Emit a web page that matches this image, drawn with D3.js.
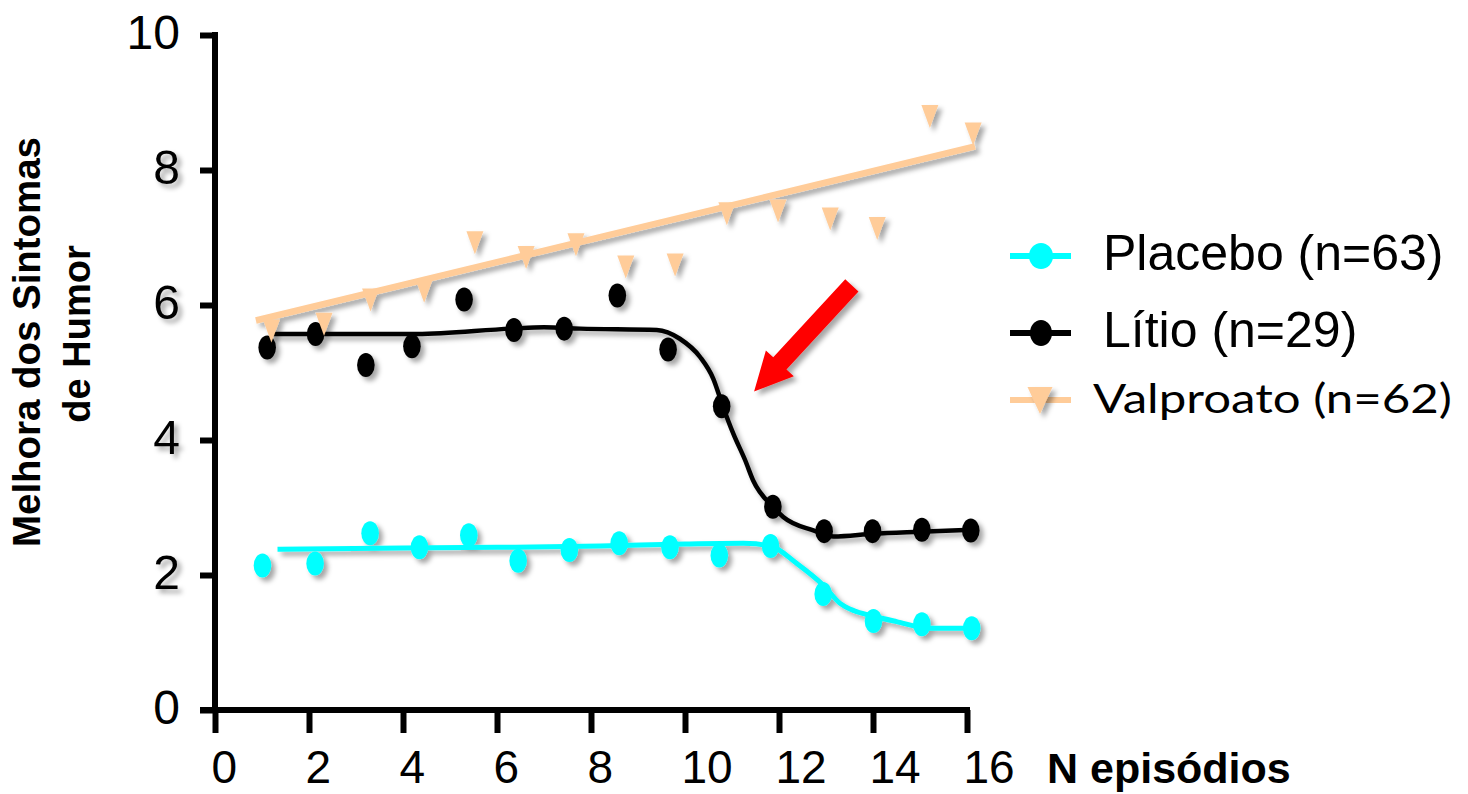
<!DOCTYPE html>
<html>
<head>
<meta charset="utf-8">
<script src="https://cdn.jsdelivr.net/npm/d3@7/dist/d3.min.js"></script>
<style>
  html, body { margin: 0; padding: 0; background: #fff; }
  svg { display: block; }
</style>
</head>
<body>
<svg id="chart" width="1468" height="794"></svg>
<script>
// ---------- data ----------
const xTicks = [0, 2, 4, 6, 8, 10, 12, 14, 16];
const yTicks = [0, 2, 4, 6, 8, 10];

const seriesNames = ["Placebo (n=63)", "Lítio (n=29)", "Valproato (n=62)"];

const placeboX = [1.01, 2.13, 3.30, 4.35, 5.40, 6.45, 7.54, 8.60, 9.68, 10.73, 11.82, 12.94, 14.01, 15.04, 16.10];
const placeboY = [2.14, 2.17, 2.62, 2.41, 2.59, 2.21, 2.37, 2.47, 2.41, 2.29, 2.43, 1.72, 1.32, 1.27, 1.21];

const litioX = [1.11, 2.14, 3.21, 4.19, 5.30, 6.36, 7.43, 8.56, 9.64, 10.78, 11.87, 12.96, 13.99, 15.04, 16.08];
const litioY = [5.37, 5.57, 5.11, 5.39, 6.08, 5.63, 5.65, 6.14, 5.34, 4.50, 3.01, 2.65, 2.65, 2.67, 2.66];

const valproX = [1.20, 2.32, 3.31, 4.45, 5.53, 6.62, 7.68, 8.74, 9.79, 10.89, 11.98, 13.09, 14.09, 15.21, 16.13];
const valproY = [5.67, 5.77, 6.13, 6.26, 6.98, 6.76, 6.95, 6.62, 6.65, 7.41, 7.45, 7.33, 7.19, 8.85, 8.59];

// fitted curves
const placeboFitX = [1.33, 4.0, 6.0, 8.2, 10.0, 11.24, 11.82, 12.38, 12.94, 13.30, 13.60, 13.95, 14.5, 15.2, 16.1];
const placeboFitY = [2.38, 2.40, 2.41, 2.43, 2.46, 2.47, 2.43, 2.17, 1.85, 1.58, 1.47, 1.40, 1.31, 1.21, 1.21];

const litioFitX = [1.17, 4.3, 6.3, 7.0, 7.77, 9.40, 9.89, 10.32, 10.6, 10.81, 11.03, 11.28, 11.45, 11.87, 12.09, 12.73, 13.16, 14.0, 15.0, 16.1];
const litioFitY = [5.57, 5.57, 5.65, 5.67, 5.65, 5.63, 5.50, 5.23, 4.91, 4.49, 4.09, 3.70, 3.40, 3.01, 2.86, 2.66, 2.57, 2.61, 2.64, 2.67];

const valproFitX = [0.87, 16.17];
const valproFitY = [5.77, 8.35];

// arrow annotation (data coords): tail -> tip
const arrowX = [13.55, 11.47];
const arrowY = [6.29, 4.72];

const colors = ["#00FFFF", "#000000", "#FFCC99"];

// ---------- scales ----------
const svg = d3.select("#chart");
const x = d3.scaleLinear().domain([0, 16]).range([215, 967]);
const y = d3.scaleLinear().domain([0, 10]).range([710, 35]);

// shadow filter
const defs = svg.append("defs");
const f = defs.append("filter").attr("id", "shadow")
  .attr("x", "-50%").attr("y", "-50%").attr("width", "200%").attr("height", "200%");
f.append("feDropShadow").attr("dx", 4).attr("dy", 4).attr("stdDeviation", 2.5)
  .attr("flood-color", "#000").attr("flood-opacity", 0.35);

// ---------- axes ----------
const xAxis = d3.axisBottom(x).tickValues(xTicks).tickSize(23).tickSizeOuter(0).tickPadding(17)
  .tickFormat(d3.format("d"));
const gx = svg.append("g").attr("transform", "translate(0,710)").call(xAxis);
gx.select(".domain").attr("stroke-width", 6).attr("d", `M${x(0) - 15},0H${x(16) + 3}`);
gx.selectAll(".tick line").attr("stroke-width", 6);
gx.selectAll(".tick text")
  .attr("text-anchor", "start").attr("x", -4)
  .attr("font-family", "Liberation Sans, Arial, sans-serif").attr("font-size", 46).attr("fill", "#000");

const yAxis = d3.axisLeft(y).tickValues(yTicks).tickSize(15).tickSizeOuter(0).tickPadding(20)
  .tickFormat(d3.format("d"));
const gy = svg.append("g").attr("transform", "translate(215,0)").call(yAxis);
gy.select(".domain").attr("stroke-width", 6).attr("d", `M0,${y(0) + 3}V${y(10) - 3}`);
gy.selectAll(".tick line").attr("stroke-width", 6);
gy.selectAll(".tick text")
  .attr("dy", "0.28em")
  .attr("font-family", "Liberation Sans, Arial, sans-serif").attr("font-size", 48).attr("fill", "#000")
  .attr("filter", d => (d > 0 && d < 10) ? "url(#shadow)" : null);

// axis titles
svg.append("text").attr("x", 1047).attr("y", 783)
  .attr("font-family", "Liberation Sans, Arial, sans-serif").attr("font-weight", "bold")
  .attr("font-size", 43).text("N episódios");

const yt = svg.append("g").attr("transform", "translate(0,342) rotate(-90)")
  .attr("font-family", "Liberation Sans, Arial, sans-serif").attr("font-weight", "bold")
  .attr("font-size", 38).attr("text-anchor", "middle");
yt.append("text").attr("x", 0).attr("y", 40).attr("textLength", 410).attr("lengthAdjust", "spacingAndGlyphs")
  .text("Melhora dos Sintomas");
yt.append("text").attr("x", 8).attr("y", 90).text("de Humor");

// ---------- series ----------
const line = d3.line().x(d => x(d[0])).y(d => y(d[1])).curve(d3.curveMonotoneX);
const zip = (a, b) => a.map((v, i) => [v, b[i]]);

const fits = [zip(placeboFitX, placeboFitY), zip(litioFitX, litioFitY), zip(valproFitX, valproFitY)];
const pts = [zip(placeboX, placeboY), zip(litioX, litioY), zip(valproX, valproY)];
const widths = [5, 4.5, 6.5];

function tri(cx, cy, w, h) {
  // downward-pointing triangle, centroid at (cx, cy)
  return `M${cx - w / 2},${cy - h / 3}L${cx + w / 2},${cy - h / 3}L${cx},${cy + 2 * h / 3}Z`;
}

for (let s = 0; s < 3; s++) {
  const g = svg.append("g").attr("filter", "url(#shadow)");
  g.append("path").datum(fits[s]).attr("d", line)
    .attr("fill", "none").attr("stroke", colors[s]).attr("stroke-width", widths[s]);
  if (s < 2) {
    g.selectAll("ellipse").data(pts[s]).join("ellipse")
      .attr("cx", d => x(d[0])).attr("cy", d => y(d[1]))
      .attr("rx", 8.8).attr("ry", 12).attr("fill", colors[s]);
  } else {
    g.selectAll("path.m").data(pts[s]).join("path").attr("class", "m")
      .attr("d", d => tri(x(d[0]), y(d[1]), 17, 23)).attr("fill", colors[s]);
  }
}

// ---------- arrow ----------
(function () {
  const x0 = x(arrowX[0]), y0 = y(arrowY[0]), x1 = x(arrowX[1]), y1 = y(arrowY[1]);
  const dx = x1 - x0, dy = y1 - y0, L = Math.hypot(dx, dy);
  const ux = dx / L, uy = dy / L, nx = -uy, ny = ux;
  const sw = 9, hw = 19, hl = 38;
  const bx = x1 - ux * hl, by = y1 - uy * hl;
  const P = [
    [x0 + nx * sw, y0 + ny * sw], [bx + nx * sw, by + ny * sw], [bx + nx * hw, by + ny * hw],
    [x1, y1],
    [bx - nx * hw, by - ny * hw], [bx - nx * sw, by - ny * sw], [x0 - nx * sw, y0 - ny * sw]
  ];
  svg.append("path").attr("d", "M" + P.map(p => p.join(",")).join("L") + "Z")
    .attr("fill", "#FF0000").attr("filter", "url(#shadow)");
})();

// ---------- legend ----------
const legY = [256, 333, 400];
const lg = svg.append("g");
for (let s = 0; s < 3; s++) {
  const g = lg.append("g");
  g.append("line").attr("x1", 1010).attr("x2", 1071).attr("y1", legY[s]).attr("y2", legY[s])
    .attr("stroke", colors[s]).attr("stroke-width", 6);
  if (s < 2) {
    g.append("ellipse").attr("cx", 1041).attr("cy", legY[s]).attr("rx", s === 0 ? 12 : 11).attr("ry", 13)
      .attr("fill", colors[s]);
  } else {
    g.append("path").attr("d", tri(1040, 396, 25, 27)).attr("fill", colors[s]).attr("filter", "url(#shadow)");
  }
}
lg.append("text").attr("x", 1103).attr("y", 270).attr("font-family", "Liberation Sans, Arial, sans-serif")
  .attr("font-size", 50).text(seriesNames[0]);
lg.append("text").attr("x", 1103).attr("y", 347).attr("font-family", "Liberation Sans, Arial, sans-serif")
  .attr("font-size", 50).text(seriesNames[1]);
lg.append("text").attr("x", 1093).attr("y", 413).attr("font-family", "Lato, 'Open Sans', sans-serif")
  .attr("font-size", 40).attr("textLength", 359).attr("lengthAdjust", "spacingAndGlyphs").text(seriesNames[2]);
</script>
</body>
</html>
